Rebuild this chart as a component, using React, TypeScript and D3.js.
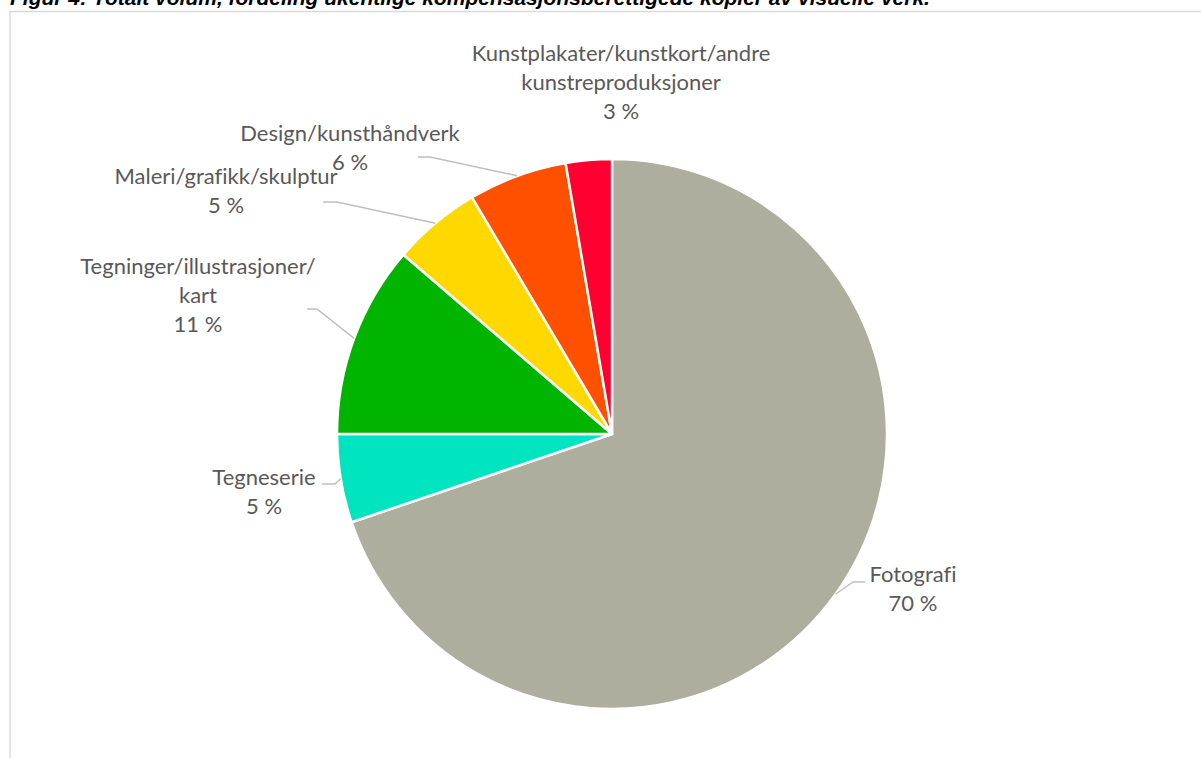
import React from "react";
import * as d3 from "d3";

const title =
  "Figur 4: Totalt volum, fordeling ukentlige kompensasjonsberettigede kopier av visuelle verk.";

const categories = [
  "Fotografi",
  "Tegneserie",
  "Tegninger/illustrasjoner/\nkart",
  "Maleri/grafikk/skulptur",
  "Design/kunsthåndverk",
  "Kunstplakater/kunstkort/andre\nkunstreproduksjoner",
];
const values = [69.8, 5.2, 11.3, 5.2, 5.8, 2.7];
const colors = ["#ADAE9E", "#00E5BF", "#00B400", "#FFD800", "#FF5000", "#FF0030"];

// label layout (offsets from pie centre): label centre x, first baseline y
const labelDX = [301, -348, -414, -386, -262, 9];
const labelDY = [148, 51, -160, -250, -293, -373];
// leader line start and knee (offsets from centre); null = no leader
const leaderStart: ([number, number] | null)[] = [
  [253, 148],
  [-290, 50],
  [-305, -125],
  [-289, -232],
  [-194, -277],
  null,
];
const leaderKneeDX = [241, -277, -295, -275, -182, 0];

export default function App() {
  const W = 1201;
  const H = 758;
  const cx = 612;
  const cy = 434;
  const r = 275;
  const lineH = 29;

  const pie = d3
    .pie<number>()
    .sort(null)
    .value((d) => d)
    .startAngle(0)
    .endAngle(2 * Math.PI);
  const arcs = pie(values);
  const arc = d3.arc<d3.PieArcDatum<number>>().innerRadius(0).outerRadius(r);
  const edge = d3.arc<d3.PieArcDatum<number>>().innerRadius(r).outerRadius(r);

  return (
    <svg
      width={W}
      height={H}
      style={{ position: "absolute", left: 0, top: 0, background: "#fff" }}
    >
      <text
        x={10}
        y={5}
        fontFamily="'Liberation Sans', Arial, sans-serif"
        fontWeight="bold"
        fontStyle="italic"
        fontSize={21}
        fill="#000"
      >
        {title}
      </text>
      <rect
        x={10}
        y={11.5}
        width={W + 20}
        height={H + 20}
        fill="#fff"
        stroke="#D9D9D9"
        strokeWidth={1.5}
      />
      <g transform={`translate(${cx},${cy})`}>
        {arcs.map((a, i) => (
          <path key={i} d={arc(a) || ""} fill={colors[i]} stroke="#fff" strokeWidth={2.5} strokeLinejoin="round" />
        ))}
        {arcs.map((a, i) => {
          const s = leaderStart[i];
          if (!s) return null;
          const [ex, ey] = edge.centroid(a);
          return (
            <polyline
              key={"l" + i}
              points={`${s[0]},${s[1]} ${leaderKneeDX[i]},${s[1]} ${ex},${ey}`}
              fill="none"
              stroke="#BFBFBF"
              strokeWidth={1.5}
            />
          );
        })}
        {categories.map((c, i) => {
          const lines = [...c.split("\n"), `${Math.round(values[i])} %`];
          return (
            <text
              key={"t" + i}
              x={labelDX[i]}
              y={labelDY[i]}
              textAnchor="middle"
              fontFamily="Lato, 'Open Sans', sans-serif"
              fontSize={22}
              fill="#595959"
              style={{ fontVariantLigatures: "none" }}
            >
              {lines.map((ln, j) => (
                <tspan key={j} x={labelDX[i]} y={labelDY[i] + j * lineH}>
                  {ln}
                </tspan>
              ))}
            </text>
          );
        })}
      </g>
    </svg>
  );
}
